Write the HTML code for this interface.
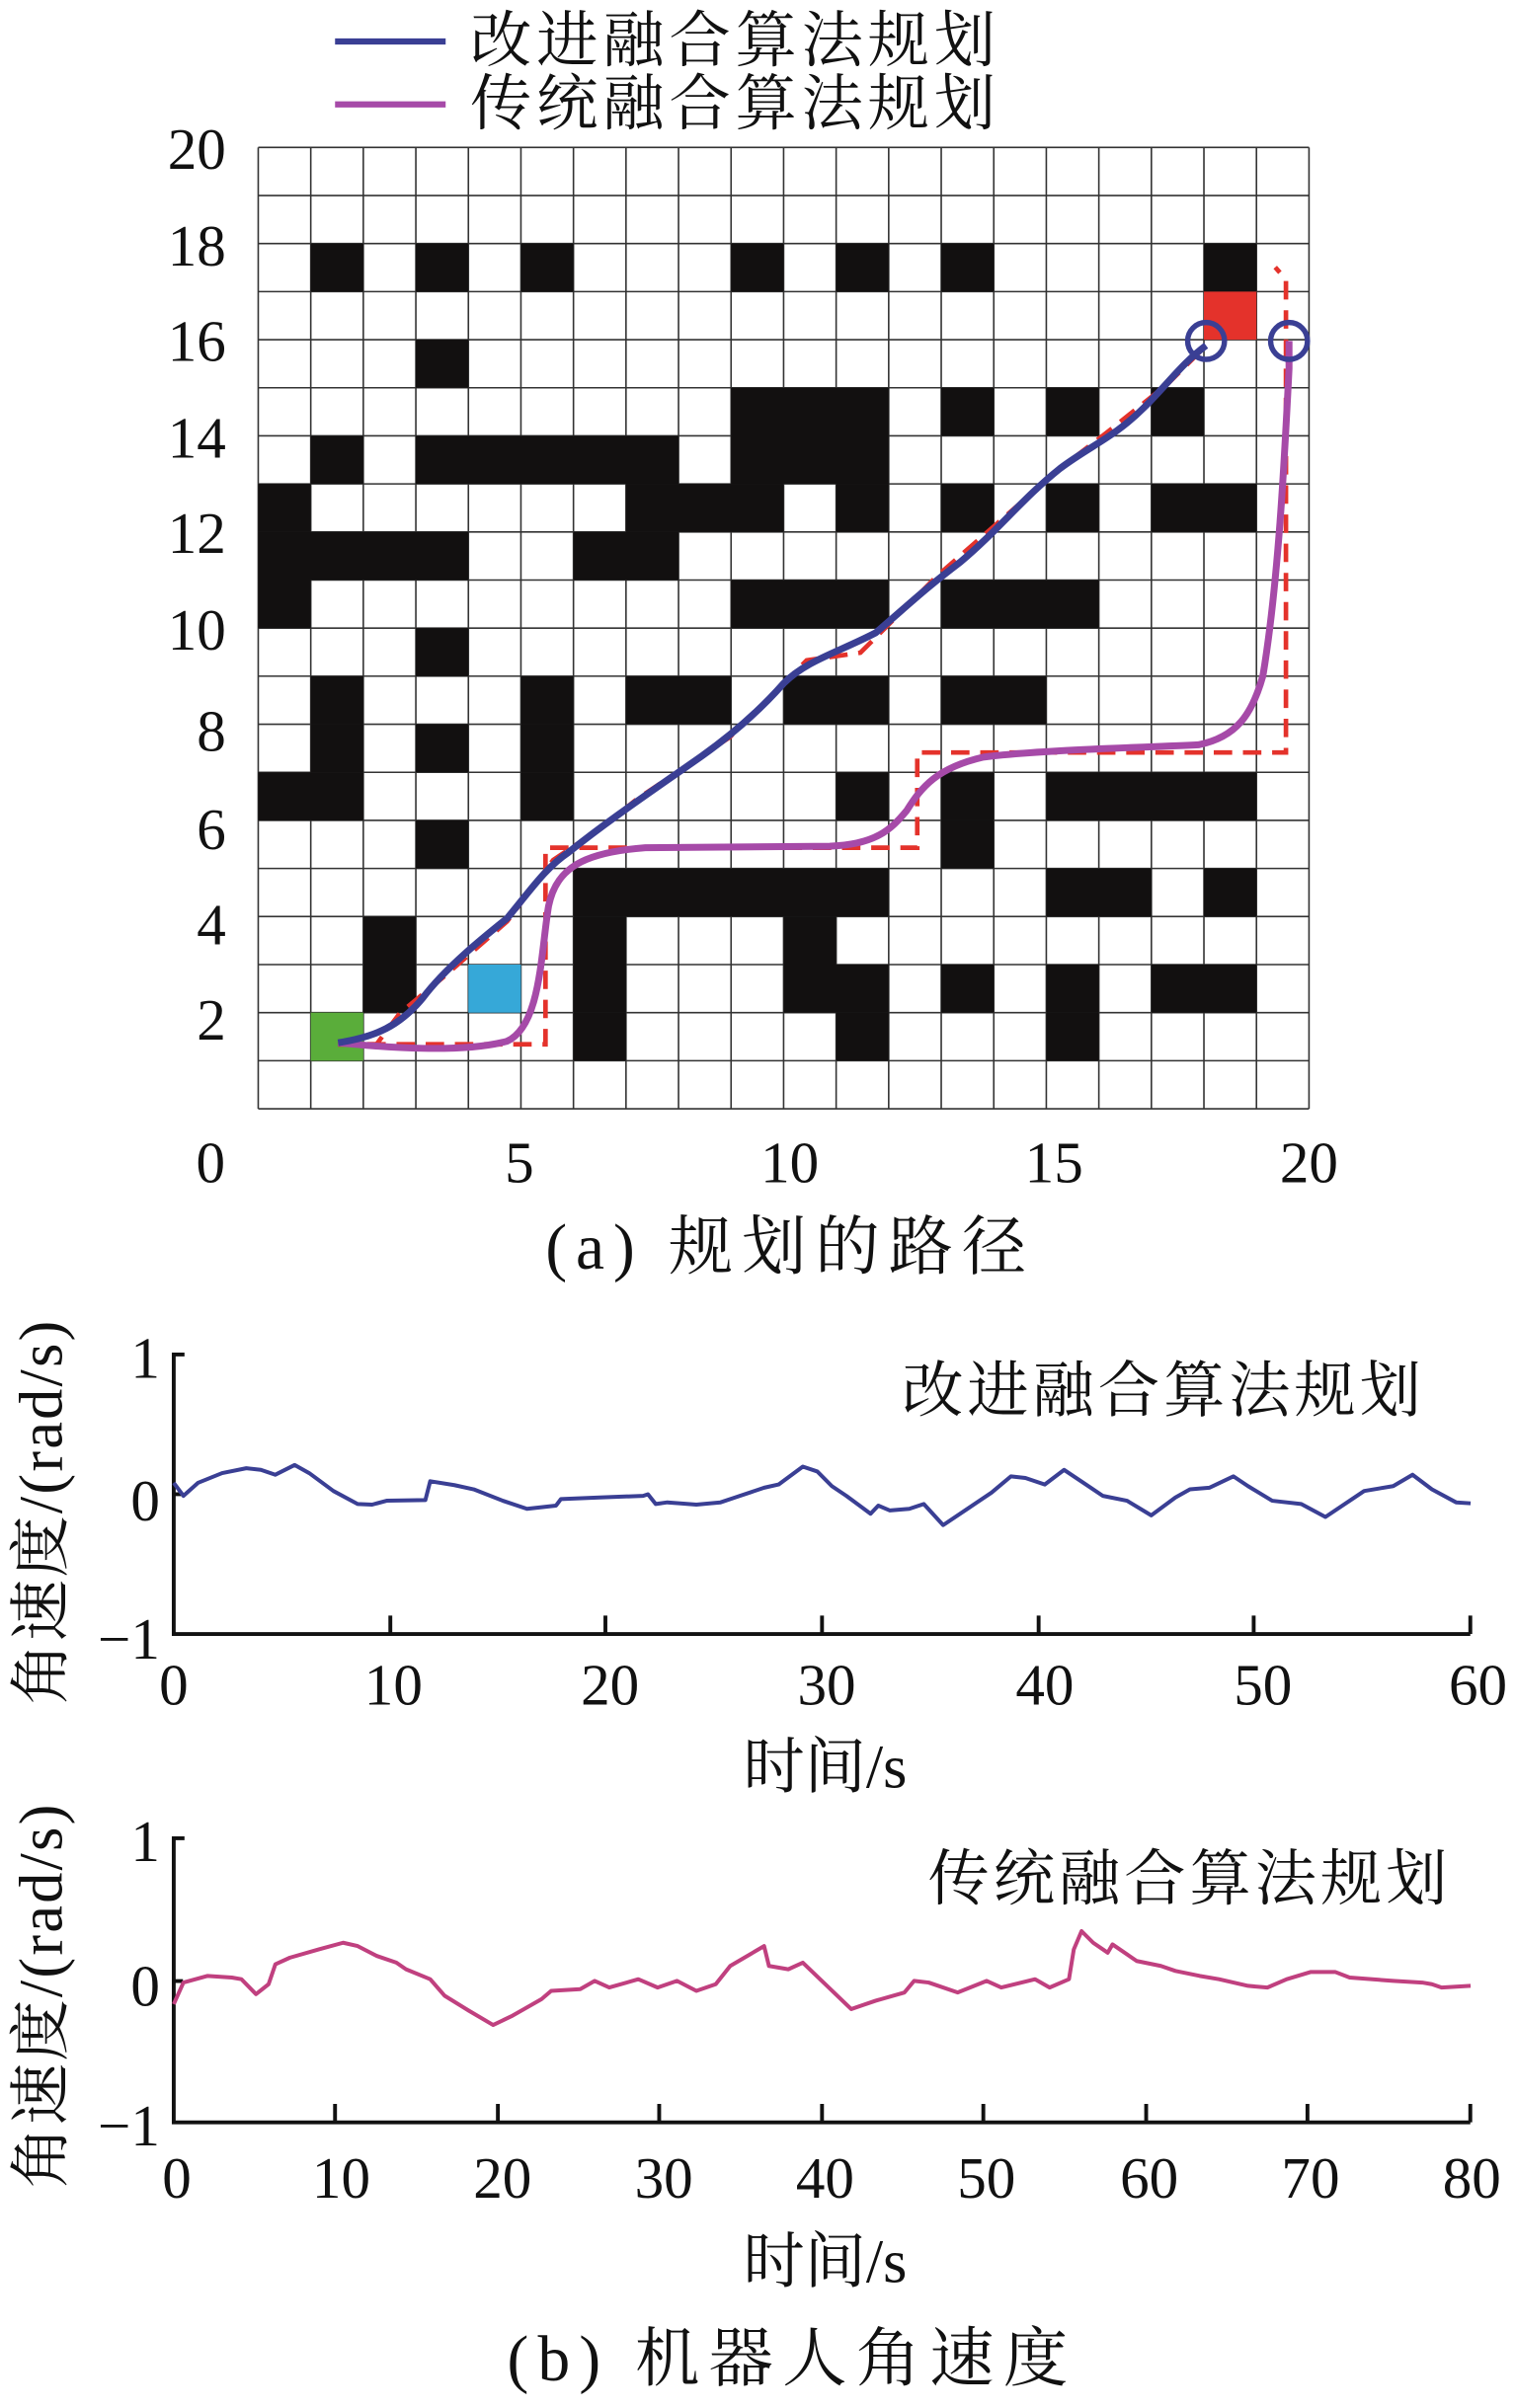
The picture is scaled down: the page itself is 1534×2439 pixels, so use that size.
<!DOCTYPE html>
<html><head><meta charset="utf-8"><style>
html,body{margin:0;padding:0;background:#fff}
svg{display:block}
text{font-family:"Liberation Serif","Noto Serif CJK SC","Noto Sans CJK SC",serif;fill:#111}
.cj{font-family:"Liberation Serif","Noto Serif CJK SC",serif}
</style></head><body>
<svg width="1534" height="2439" viewBox="0 0 986 1568" xmlns="http://www.w3.org/2000/svg">
<!-- legend -->
<line x1="218" y1="27" x2="290" y2="27" stroke="#3a3f94" stroke-width="4"/>
<line x1="218" y1="68" x2="290" y2="68" stroke="#a64aa8" stroke-width="4"/>
<text x="306" y="40" font-size="40" class="cj" textLength="342">改进融合算法规划</text>
<text x="306" y="81" font-size="40" class="cj" textLength="342">传统融合算法规划</text>

<!-- grid -->
<g transform="translate(168 96) scale(34.2 31.3)" fill="#121010">
<path fill="none" stroke="#333" stroke-width="1.6" vector-effect="non-scaling-stroke" d="M0 0V20M1 0V20M2 0V20M3 0V20M4 0V20M5 0V20M6 0V20M7 0V20M8 0V20M9 0V20M10 0V20M11 0V20M12 0V20M13 0V20M14 0V20M15 0V20M16 0V20M17 0V20M18 0V20M19 0V20M20 0V20M0 0H20M0 1H20M0 2H20M0 3H20M0 4H20M0 5H20M0 6H20M0 7H20M0 8H20M0 9H20M0 10H20M0 11H20M0 12H20M0 13H20M0 14H20M0 15H20M0 16H20M0 17H20M0 18H20M0 19H20M0 20H20"/>
<rect x="1" y="2" width="1" height="1"/><rect x="3" y="2" width="1" height="1"/><rect x="5" y="2" width="1" height="1"/><rect x="9" y="2" width="1" height="1"/><rect x="11" y="2" width="1" height="1"/><rect x="13" y="2" width="1" height="1"/><rect x="18" y="2" width="1" height="1"/>
<rect x="18" y="3" width="1" height="1" fill="#e4322b"/>
<rect x="3" y="4" width="1" height="1"/>
<rect x="9" y="5" width="3" height="1"/><rect x="13" y="5" width="1" height="1"/><rect x="15" y="5" width="1" height="1"/><rect x="17" y="5" width="1" height="1"/>
<rect x="1" y="6" width="1" height="1"/><rect x="3" y="6" width="5" height="1"/><rect x="9" y="6" width="3" height="1"/>
<rect x="0" y="7" width="1" height="1"/><rect x="7" y="7" width="3" height="1"/><rect x="11" y="7" width="1" height="1"/><rect x="13" y="7" width="1" height="1"/><rect x="15" y="7" width="1" height="1"/><rect x="17" y="7" width="2" height="1"/>
<rect x="0" y="8" width="4" height="1"/><rect x="6" y="8" width="2" height="1"/>
<rect x="0" y="9" width="1" height="1"/><rect x="9" y="9" width="3" height="1"/><rect x="13" y="9" width="3" height="1"/>
<rect x="3" y="10" width="1" height="1"/>
<rect x="1" y="11" width="1" height="1"/><rect x="5" y="11" width="1" height="1"/><rect x="7" y="11" width="2" height="1"/><rect x="10" y="11" width="2" height="1"/><rect x="13" y="11" width="2" height="1"/>
<rect x="1" y="12" width="1" height="1"/><rect x="3" y="12" width="1" height="1"/><rect x="5" y="12" width="1" height="1"/>
<rect x="0" y="13" width="2" height="1"/><rect x="5" y="13" width="1" height="1"/><rect x="11" y="13" width="1" height="1"/><rect x="13" y="13" width="1" height="1"/><rect x="15" y="13" width="4" height="1"/>
<rect x="3" y="14" width="1" height="1"/><rect x="13" y="14" width="1" height="1"/>
<rect x="6" y="15" width="6" height="1"/><rect x="15" y="15" width="2" height="1"/><rect x="18" y="15" width="1" height="1"/>
<rect x="2" y="16" width="1" height="1"/><rect x="6" y="16" width="1" height="1"/><rect x="10" y="16" width="1" height="1"/>
<rect x="2" y="17" width="1" height="1"/><rect x="6" y="17" width="1" height="1"/><rect x="10" y="17" width="2" height="1"/><rect x="13" y="17" width="1" height="1"/><rect x="15" y="17" width="1" height="1"/><rect x="17" y="17" width="2" height="1"/>
<rect x="4" y="17" width="1" height="1" fill="#36a8d8"/>
<rect x="1" y="18" width="1" height="1" fill="#5aad3a"/><rect x="6" y="18" width="1" height="1"/><rect x="11" y="18" width="1" height="1"/><rect x="15" y="18" width="1" height="1"/>
</g>

<!-- paths -->
<path fill="none" stroke="#e4322b" stroke-width="3" stroke-dasharray="12 7" d="M220 680 H355 V552 H597 V490 H837 V182 L830 174"/>
<path fill="none" stroke="#e4322b" stroke-width="3" stroke-dasharray="12 7" d="M220 680 L245 680 L260 660 L290 635 L330 600 L360 560 L390 540 L415 520 L445 500 L475 480 L505 450 L525 430 L560 425 L575 410 L610 375 L650 340 L690 305 L720 282 L760 250 L785 225"/>
<path fill="none" stroke="#a64aa8" stroke-width="4.5" stroke-linejoin="round" d="M220 679 C250 682 300 686 330 678 C352 668 352 620 357 590 C362 565 380 555 420 552 L540 551 C570 550 580 540 590 528 C600 512 610 500 640 493 C680 488 740 487 780 485 C805 480 815 465 822 440 C832 380 836 300 839 240 L839 222"/>
<path fill="none" stroke="#3a3f94" stroke-width="4.5" stroke-linejoin="round" d="M220 679 C245 675 260 668 275 650 C290 630 315 610 330 598 C345 580 355 565 370 555 C395 535 420 518 450 497 C475 480 495 462 510 445 C525 430 545 425 570 412 C590 395 600 385 625 366 C650 345 665 325 690 305 C710 290 725 285 745 265 C760 250 770 236 785 225"/>
<circle cx="785" cy="222" r="12" fill="none" stroke="#3a3f94" stroke-width="3.5"/>
<circle cx="839" cy="222" r="12" fill="none" stroke="#3a3f94" stroke-width="3.5"/>

<!-- tick labels grid -->
<g font-size="38" text-anchor="end">
<text x="147" y="110">20</text><text x="147" y="173">18</text><text x="147" y="235">16</text><text x="147" y="298">14</text><text x="147" y="360">12</text><text x="147" y="423">10</text><text x="147" y="489">8</text><text x="147" y="553">6</text><text x="147" y="615">4</text><text x="147" y="677">2</text>
</g>
<g font-size="38" text-anchor="middle">
<text x="137" y="770">0</text><text x="338" y="770">5</text><text x="514" y="770">10</text><text x="686" y="770">15</text><text x="852" y="770">20</text>
</g>
<text x="355" y="826" font-size="42" class="cj" textLength="313">(a)  规划的路径</text>

<!-- chart 1 -->
<path fill="none" stroke="#111" stroke-width="2.5" d="M120 882 H113 V1064 H957 M113 973 H119 M254 1064 V1052 M394 1064 V1052 M535 1064 V1052 M676 1064 V1052 M816 1064 V1052 M957 1064 V1052"/>
<g font-size="38" text-anchor="end"><text x="104" y="897">1</text><text x="104" y="990">0</text><text x="104" y="1080">−1</text></g>
<g font-size="38" text-anchor="middle"><text x="113" y="1110">0</text><text x="256" y="1110">10</text><text x="397" y="1110">20</text><text x="538" y="1110">30</text><text x="680" y="1110">40</text><text x="822" y="1110">50</text><text x="962" y="1110">60</text></g>
<text x="537" y="1164" font-size="40" text-anchor="middle" class="cj">时间/s</text>
<text x="587" y="919" font-size="40" class="cj" textLength="338">改进融合算法规划</text>
<text transform="translate(40 985) rotate(-90)" font-size="40" text-anchor="middle" class="cj" textLength="250">角速度/(rad/s)</text>
<g transform="translate(113 882) scale(0.63 0.2116) translate(-180 -150)">
<polyline fill="none" stroke="#3a3f94" stroke-width="4" vector-effect="non-scaling-stroke" stroke-linejoin="round" points="180,545 190,585 205,545 230,515 255,500 270,505 285,520 305,490 320,515 345,570 370,610 385,612 400,600 440,598 445,540 470,552 490,565 520,600 545,625 560,620 575,615 580,595 620,590 665,585 670,580 678,610 690,605 720,612 745,605 760,590 790,560 805,550 830,495 845,510 860,555 875,585 900,640 908,615 920,630 940,625 955,610 975,675 1000,625 1025,575 1045,525 1060,530 1080,550 1100,505 1120,545 1140,585 1165,600 1190,645 1215,590 1230,565 1250,560 1275,525 1290,555 1315,600 1345,610 1370,650 1395,600 1410,570 1440,555 1460,520 1480,565 1505,605 1520,608"/>
</g>

<!-- chart 2 -->
<path fill="none" stroke="#111" stroke-width="2.5" d="M120 1197 H113 V1382 H957 M113 1290 H119 M218 1382 V1370 M324 1382 V1370 M429 1382 V1370 M535 1382 V1370 M640 1382 V1370 M746 1382 V1370 M851 1382 V1370 M957 1382 V1370"/>
<g font-size="38" text-anchor="end"><text x="104" y="1212">1</text><text x="104" y="1306">0</text><text x="104" y="1397">−1</text></g>
<g font-size="38" text-anchor="middle"><text x="115" y="1431">0</text><text x="222" y="1431">10</text><text x="327" y="1431">20</text><text x="432" y="1431">30</text><text x="537" y="1431">40</text><text x="642" y="1431">50</text><text x="748" y="1431">60</text><text x="853" y="1431">70</text><text x="958" y="1431">80</text></g>
<text x="537" y="1486" font-size="40" text-anchor="middle" class="cj">时间/s</text>
<text x="604" y="1237" font-size="40" class="cj" textLength="338">传统融合算法规划</text>
<text transform="translate(40 1300) rotate(-90)" font-size="40" text-anchor="middle" class="cj" textLength="250">角速度/(rad/s)</text>
<g transform="translate(113 1197) scale(0.63 0.216) translate(-180 -125)">
<polyline fill="none" stroke="#c0407f" stroke-width="4" vector-effect="non-scaling-stroke" stroke-linejoin="round" points="180,625 190,560 215,540 240,545 250,550 265,595 278,565 285,505 300,485 330,460 355,440 370,450 390,480 410,500 420,520 445,550 460,600 485,645 510,688 530,660 560,610 570,585 600,580 615,555 630,575 660,550 680,575 700,555 720,585 740,565 755,510 790,450 795,510 815,520 830,500 855,570 880,640 905,615 935,590 945,555 960,560 990,590 1020,555 1035,575 1070,550 1085,575 1105,550 1110,460 1118,405 1130,440 1145,470 1150,445 1175,495 1200,510 1215,525 1240,540 1260,550 1290,570 1310,575 1330,550 1355,528 1380,528 1395,545 1440,555 1470,560 1480,565 1490,575 1520,570"/>
</g>

<text x="330" y="1550" font-size="42" class="cj" textLength="365">(b)  机器人角速度</text>
</svg>
</body></html>
